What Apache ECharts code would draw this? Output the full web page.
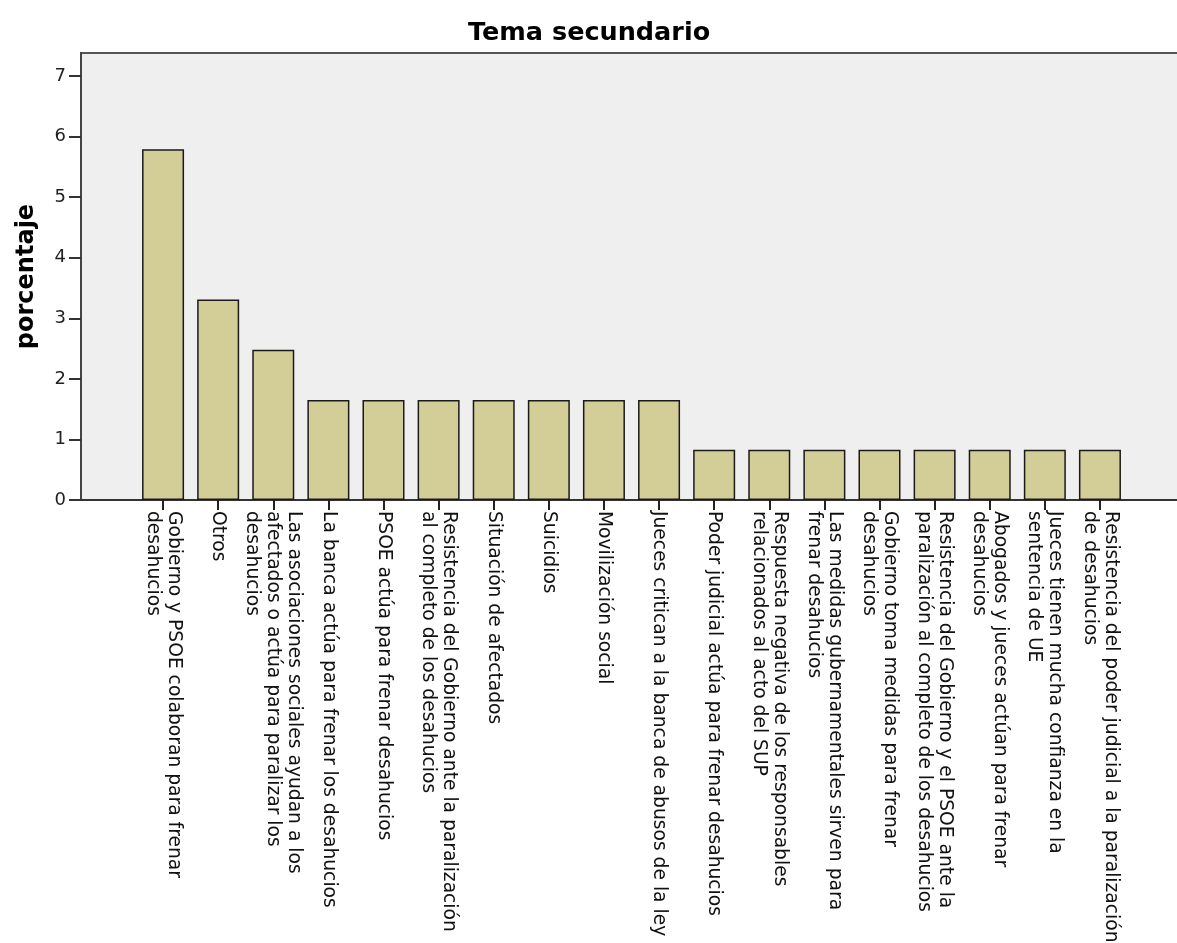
<!DOCTYPE html>
<html>
<head>
<meta charset="utf-8">
<script src="https://cdn.jsdelivr.net/npm/echarts@6/dist/echarts.min.js"></script>
<style>html,body{margin:0;padding:0;background:#fff}#c{width:1177px;height:943px}</style>
</head>
<body>
<div id="c"></div>
<script>
const titleText = 'Tema secundario';
const yAxisName = 'porcentaje';
const categories = [
  'Gobierno y PSOE colaboran para frenar\ndesahucios',
  'Otros',
  'Las asociaciones sociales ayudan a los\nafectados o actúa para paralizar los\ndesahucios',
  'La banca actúa para frenar los desahucios',
  'PSOE actúa para frenar desahucios',
  'Resistencia del Gobierno ante la paralización\nal completo de los desahucios',
  'Situación de afectados',
  'Suicidios',
  'Movilización social',
  'Jueces critican a la banca de abusos de la ley',
  'Poder judicial actúa para frenar desahucios',
  'Respuesta negativa de los responsables\nrelacionados al acto del SUP',
  'Las medidas gubernamentales sirven para\nfrenar desahucios',
  'Gobierno toma medidas para frenar\ndesahucios',
  'Resistencia del Gobierno y el PSOE ante la\nparalización al completo de los desahucios',
  'Abogados y jueces actúan para frenar\ndesahucios',
  'Jueces tienen mucha confianza en la\nsentencia de UE',
  'Resistencia del poder judicial a la paralización\nde desahucios'
];
const percentages = [5.79, 3.31, 2.48, 1.65, 1.65, 1.65, 1.65, 1.65, 1.65, 1.65,
  0.83, 0.83, 0.83, 0.83, 0.83, 0.83, 0.83, 0.83];
const yTicks = [0, 1, 2, 3, 4, 5, 6, 7];
const yMax = 7.38;

const chart = echarts.init(document.getElementById('c'), null, {renderer: 'canvas'});
const font = 'DejaVu Sans';
chart.setOption({
  animation: false,
  backgroundColor: '#ffffff',
  title: {
    text: titleText,
    left: 468, top: 20, padding: 0,
    textStyle: {fontFamily: font, fontSize: 25.5, fontWeight: 'bold', color: '#000'}
  },
  grid: [
    {left: 81, top: 53, right: -6, bottom: 443, show: true, backgroundColor: '#efefef',
     borderColor: '#555', borderWidth: 2, containLabel: false, outerBoundsMode: 'none'},
    {left: 135.5, top: 53, right: 49.5, bottom: 443, containLabel: false, outerBoundsMode: 'none'}
  ],
  xAxis: [
    {type: 'value', gridIndex: 0, min: 0, max: 1,
     axisLine: {show: true, onZero: false, lineStyle: {color: '#333', width: 2}},
     axisTick: {show: false}, axisLabel: {show: false}, splitLine: {show: false}},
    {type: 'category', gridIndex: 1, data: categories,
     axisLine: {show: false},
     axisTick: {show: true, alignWithLabel: true, length: 10, lineStyle: {color: '#222', width: 2}},
     axisLabel: {interval: 0, rotate: -90, margin: 11, fontFamily: font, fontSize: 18.7,
       lineHeight: 21, color: '#111'}}
  ],
  yAxis: [
    {type: 'value', gridIndex: 0, min: 0, max: yMax,
     name: yAxisName, nameLocation: 'middle', nameGap: 42,
     nameTextStyle: {fontFamily: font, fontSize: 24, fontWeight: 'bold', color: '#000'},
     axisLine: {show: true, lineStyle: {color: '#444', width: 2}},
     axisTick: {show: true, length: 12, customValues: yTicks, lineStyle: {color: '#333', width: 2}},
     axisLabel: {customValues: yTicks, margin: 15, fontFamily: font, fontSize: 18, color: '#222'},
     splitLine: {show: false}},
    {type: 'value', gridIndex: 1, min: 0, max: yMax, show: false,
     axisLine: {show: false}, axisTick: {show: false}, axisLabel: {show: false}, splitLine: {show: false}}
  ],
  series: [{
    type: 'bar', xAxisIndex: 1, yAxisIndex: 1, data: percentages,
    barWidth: 42,
    itemStyle: {color: '#d3ce98', borderColor: '#1a1a1a', borderWidth: 1.5}
  }]
});
</script>
</body>
</html>
